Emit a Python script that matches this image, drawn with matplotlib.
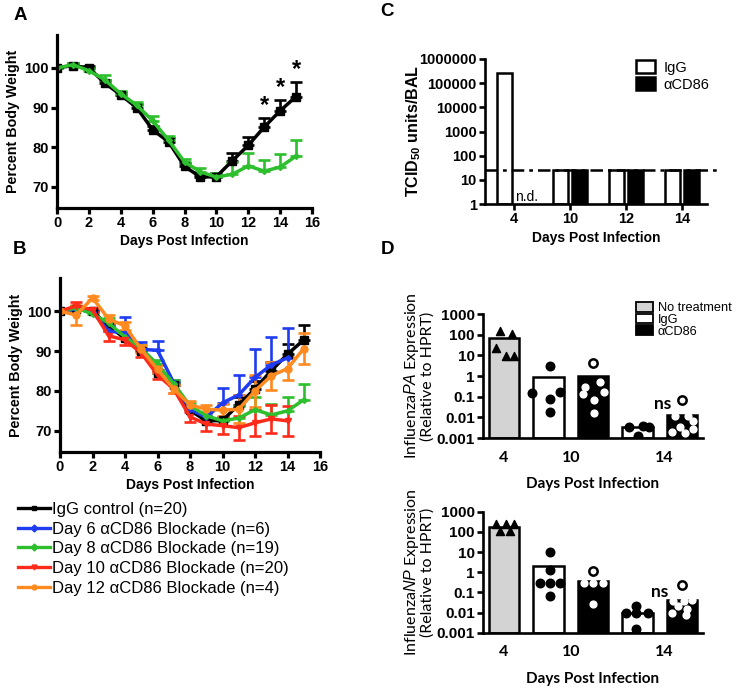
import numpy as np
import matplotlib
matplotlib.use('Agg')
import matplotlib.pyplot as plt
from matplotlib.lines import Line2D
from matplotlib.patches import Patch

plt.rcParams['font.family'] = ['Liberation Sans', 'DejaVu Sans']
plt.rcParams['mathtext.fontset'] = 'custom'
plt.rcParams['mathtext.rm'] = 'Liberation Sans'
plt.rcParams['mathtext.bf'] = 'Liberation Sans:bold'
plt.rcParams['mathtext.it'] = 'Liberation Sans:italic'

# ---- panel A / B data: percent body weight ----
days = np.arange(16)
igg = [100, 100.6, 100, 96.2, 93.2, 90, 84.4, 81.4, 75.2, 72.5, 72.6, 76.6, 80.5, 85.1, 89.2, 92.8]
igg_err = [0.4, 0.6, 0.5, 0.8, 0.8, 0.8, 0.9, 0.9, 0.8, 0.6, 0.8, 2.0, 2.0, 2.2, 2.6, 3.6]
d8 = [100, 100.8, 99.3, 97, 93.5, 90.6, 86.7, 81.8, 76.3, 73.8, 72.5, 73.2, 75.3, 74, 75, 77.8]
d8_err = [0.3, 0.5, 0.6, 1.2, 0.8, 0.9, 1.1, 1.0, 0.8, 1.0, 0.9, 3.1, 3.3, 2.7, 3.4, 4.0]
days_d6 = np.arange(15)
d6 = [100, 100.5, 99.8, 95, 94.5, 90.4, 90.2, 82, 75.4, 73.4, 77, 79, 83.4, 86.5, 88.3]
d6_err = [0.3, 0.5, 0.5, 1.5, 4.0, 1.8, 2.4, 0.8, 0.7, 0.6, 3.7, 5.0, 7.2, 7.0, 7.4]
days_d10 = np.arange(15)
d10 = [100, 101.3, 100.3, 93.8, 92.8, 89.5, 84, 80.5, 73.5, 71.7, 71.3, 70.8, 72, 73, 72.5]
d10_err = [0.3, 1.0, 0.5, 1.2, 1.4, 1.0, 1.0, 1.0, 1.2, 1.8, 2.2, 3.0, 3.2, 3.5, 3.8]
d12 = [100, 99, 103.3, 98, 96.3, 90.4, 85.4, 80.5, 76.5, 75.4, 75.2, 75.4, 80, 83.8, 85.6, 90.6]
d12_err = [0.3, 2.5, 0.5, 1.0, 1.0, 1.0, 1.0, 1.0, 1.0, 1.0, 1.5, 3.5, 4.0, 3.5, 2.8, 3.8]
star_days = [13, 14, 15]

# ---- panel C data: viral titre ----
c_days = ['4', '10', '12', '14']
c_igg = [2.6e5, 25, 25, 25]
c_cd86 = [np.nan, 25, 25, 25]
detect_limit = 25

# ---- panel D data: PA / NP expression ----
d_ticks = ['4', '10', '14']
pa_bars = [72, 0.85, 1.0, 0.0034, 0.013]
pa_pts = [[155, 104, 22, 9.7, 9.7],
          [3.1, 0.15, 0.076, 0.17, 0.019],
          [4.5, 0.5, 0.31, 0.16, 0.14, 0.07, 0.016],
          [0.0036, 0.0012, 0.004, 0.0036],
          [0.07, 0.011, 0.012, 0.0063, 0.0036, 0.002, 0.0017, 0.0026]]
pa_jit = [[-0.09, 0.17, -0.18, 0.04, 0.23],
          [0.04, -0.36, 0.03, 0.25, 0.04],
          [0, 0.16, -0.18, 0.25, -0.22, 0.03, 0.03],
          [-0.2, 0.0, 0.12, 0.25],
          [0, -0.16, 0.14, 0.25, -0.04, -0.23, 0.07, 0.25]]
np_bars = [175, 2.1, 0.37, 0.0091, 0.042]
np_pts = [[245, 245, 245, 110, 110],
          [10.5, 1.3, 0.28, 0.3, 0.3, 0.063],
          [1.15, 0.3, 0.3, 0.3, 0.028],
          [0.02, 0.009, 0.009, 0.009, 0.0015],
          [0.24, 0.038, 0.038, 0.042, 0.021, 0.015, 0.009, 0.0075]]
np_jit = [[-0.17, 0.04, 0.22, -0.09, 0.13],
          [0.04, 0.04, -0.18, 0.04, 0.25, 0.04],
          [0, -0.2, 0, 0.23, 0],
          [-0.03, -0.25, -0.03, 0.23, -0.03],
          [0, -0.2, 0.05, 0.22, -0.1, 0.12, -0.22, 0.08]]

BLACK = 'black'
GREEN = '#2dbf2d'
BLUE = '#1f3cf0'
RED = '#ff2b1a'
ORANGE = '#ff8a1f'

fig = plt.figure(figsize=(7.38, 6.88), dpi=100)
W, H = 738, 688


def px_axes(l, t, r, b):
    return fig.add_axes([l / W, 1 - b / H, (r - l) / W, (b - t) / H])


def style_axes(ax, lw=1.9):
    for s in ['top', 'right']:
        ax.spines[s].set_visible(False)
    for s in ['left', 'bottom']:
        ax.spines[s].set_linewidth(lw)
    ax.tick_params(width=lw, length=4.5, labelsize=10.5, pad=1.5)
    for lab in ax.get_xticklabels() + ax.get_yticklabels():
        lab.set_fontweight('bold')


def weight_series(ax, x, y, err, color, marker, ms, both=False):
    lower = err if both else np.zeros(len(err))
    ax.errorbar(x, y, yerr=[lower, err], color=color, marker=marker, ms=ms,
                lw=2.5, elinewidth=1.9, capsize=4, capthick=1.9)


def weight_axes(ax):
    ax.set_xlim(0, 16)
    ax.set_ylim(64.7, 108.3)
    ax.set_xticks(range(0, 17, 2))
    ax.set_yticks([70, 80, 90, 100])
    ax.set_xlabel('Days Post Infection', fontweight='bold', fontsize=10, labelpad=3)
    ax.set_ylabel('Percent Body Weight', fontweight='bold', fontsize=10.3, labelpad=3)
    style_axes(ax, 2.3)


# ---- A ----
ax_a = px_axes(57, 35, 312, 208)
weight_series(ax_a, days, igg, igg_err, BLACK, 's', 6)
weight_series(ax_a, days, d8, d8_err, GREEN, 'D', 3)
for d in star_days:
    ax_a.text(d, igg[d] + igg_err[d] + 0.3, '*', ha='center', va='bottom',
              fontsize=17, fontweight='bold')
weight_axes(ax_a)

# ---- B ----
ax_b = px_axes(60, 278, 320, 452)
weight_series(ax_b, days, igg, igg_err, BLACK, 's', 5.5)
weight_series(ax_b, days_d6, d6, d6_err, BLUE, 'D', 3)
weight_series(ax_b, days, d8, d8_err, GREEN, 'D', 3)
weight_series(ax_b, days_d10, d10, d10_err, RED, 'v', 4, both=True)
weight_series(ax_b, days, d12, d12_err, ORANGE, 'o', 5, both=True)
weight_axes(ax_b)

b_labels = ['IgG control (n=20)', 'Day 6 \u03b1CD86 Blockade (n=6)',
            'Day 8 \u03b1CD86 Blockade (n=19)', 'Day 10 \u03b1CD86 Blockade (n=20)',
            'Day 12 \u03b1CD86 Blockade (n=4)']
b_handles = [Line2D([], [], color=c, marker=m, ms=3.5, lw=2.4)
             for c, m in zip([BLACK, BLUE, GREEN, RED, ORANGE], ['s', 'D', 'D', 'v', 'o'])]
ax_b.legend(b_handles, b_labels, loc='upper left', bbox_to_anchor=(18 / W, 1 - 502 / H),
            bbox_transform=fig.transFigure, frameon=False, fontsize=12,
            handlelength=1.9, handletextpad=0.15, labelspacing=0.28,
            borderpad=0, borderaxespad=0)

# ---- C ----
ax_c = px_axes(485, 59, 707, 204)
xc = np.arange(len(c_days))
bw = 0.27
ax_c.bar(xc - 0.17, np.array(c_igg) - 1, bottom=1, width=bw, color='white',
         edgecolor='black', linewidth=1.8, label='IgG')
ax_c.bar(xc + 0.17, np.array(c_cd86) - 1, bottom=1, width=bw, color='black',
         edgecolor='black', linewidth=1.8, label='\u03b1CD86')
ax_c.set_yscale('log')
ax_c.set_ylim(1, 1e6)
ax_c.set_xlim(-0.52, 3.45)
ax_c.plot([-0.52, 3.65], [detect_limit, detect_limit], color='black', lw=1.8,
          ls=(0, (5, 2, 1.5, 2)), clip_on=False)
ax_c.set_xticks(xc)
ax_c.set_xticklabels(c_days)
ax_c.set_yticks([10 ** k for k in range(7)])
ax_c.set_yticklabels([str(10 ** k) for k in range(7)])
ax_c.text(0.23, 1.9, 'n.d.', ha='center', va='center', fontsize=10)
ax_c.set_xlabel('Days Post Infection', fontweight='bold', fontsize=10, labelpad=3)
ax_c.set_ylabel('TCID$_{\\mathbf{50}}$ units/BAL', fontweight='bold', fontsize=11.5, labelpad=-3)
style_axes(ax_c, 1.9)
ax_c.tick_params(axis='y', which='minor', length=2.5, width=1)
ax_c.legend(loc='upper left', bbox_to_anchor=(636 / W, 1 - 60 / H),
            bbox_transform=fig.transFigure, frameon=False, fontsize=10.5,
            handlelength=1.3, handleheight=1.0, handletextpad=0.6,
            labelspacing=0.2, borderpad=0, borderaxespad=0)


# ---- D ----
def expr_axes(ax, bars, pts, jit, gene):
    x = np.arange(len(bars))
    ax.bar(x, np.array(bars) - 1e-3, bottom=1e-3, width=0.68,
           color=['#d3d3d3', 'white', 'black', 'white', 'black'],
           edgecolor='black', linewidth=1.8, zorder=2)
    for g in range(len(bars)):
        px = g + np.array(jit[g])
        py = np.array(pts[g])
        if g == 0:
            ax.scatter(px, py, marker='^', s=34, color='black', zorder=3)
        elif g in (1, 3):
            ax.scatter(px, py, marker='o', s=38, color='black', zorder=3)
        else:
            ax.scatter(px[:1], py[:1], marker='o', s=36, facecolor='white',
                       edgecolor='black', linewidth=1.8, zorder=3)
            ax.scatter(px[1:], py[1:], marker='o', s=24, color='white', zorder=3)
    ax.set_yscale('log')
    ax.set_ylim(1e-3, 1e3)
    ax.set_xlim(-0.47, 4.47)
    ax.set_xticks([0, 1.5, 3.6])
    ax.set_xticklabels(d_ticks)
    ax.set_yticks([10.0 ** k for k in range(-3, 4)])
    ax.set_yticklabels(['0.001', '0.01', '0.1', '1', '10', '100', '1000'])
    style_axes(ax, 1.9)
    ax.tick_params(axis='y', labelsize=11)
    ax.tick_params(axis='y', which='minor', length=2.5, width=1)
    ax.tick_params(axis='x', length=0, pad=9)
    for lab in ax.get_xticklabels():
        lab.set_fontfamily('Lato')
        lab.set_fontsize(11.5)
    ax.set_xlabel('Days Post Infection', fontweight='bold', fontfamily='Lato',
                  fontsize=11, labelpad=9)
    ax.set_ylabel('Influenza$\\mathit{' + gene + '}$ Expression\n(Relative to HPRT)',
                  fontfamily='Lato', fontsize=11.5, labelpad=1, linespacing=1.0)


ax_d1 = px_axes(483, 314, 703, 438)
expr_axes(ax_d1, pa_bars, pa_pts, pa_jit, 'PA')
ax_d1.text(3.57, 0.045, 'ns', ha='center', va='center', fontsize=12.5,
           fontweight='bold', fontfamily='Lato')
d_handles = [Patch(facecolor=c, edgecolor='black', linewidth=1.3)
             for c in ['#d3d3d3', 'white', 'black']]
ax_d1.legend(d_handles, ['No treatment', 'IgG', '\u03b1CD86'], loc='upper left',
             bbox_to_anchor=(636 / W, 1 - 302 / H), bbox_transform=fig.transFigure,
             frameon=False, fontsize=9.2, handlelength=1.3, handleheight=0.8,
             handletextpad=0.4, labelspacing=-0.05, borderpad=0, borderaxespad=0)

ax_d2 = px_axes(483, 511.7, 703, 632.7)
expr_axes(ax_d2, np_bars, np_pts, np_jit, 'NP')
ax_d2.text(3.5, 0.1, 'ns', ha='center', va='center', fontsize=12.5,
           fontweight='bold', fontfamily='Lato')

# panel letters
for lab, xx, yy in [('A', 20, 16), ('B', 20, 250), ('C', 387, 12), ('D', 387, 250)]:
    fig.text(xx / W, 1 - yy / H, lab, fontsize=13.5, fontweight='bold',
             ha='center', va='center')

fig.savefig('out.png', dpi=100)
